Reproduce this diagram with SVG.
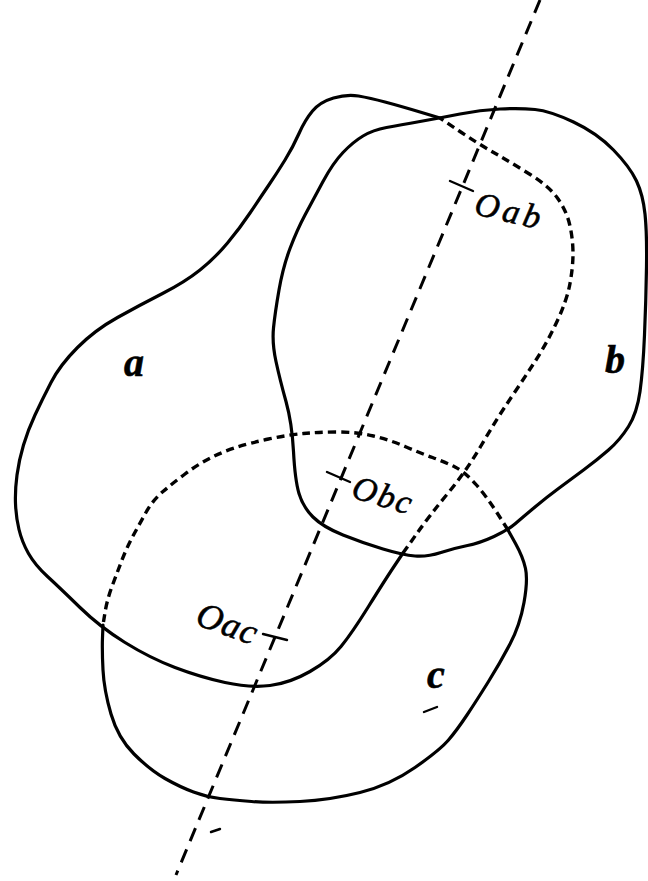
<svg xmlns="http://www.w3.org/2000/svg" width="648" height="881" viewBox="0 0 648 881">
<style>
.solid{fill:none;stroke:#000;stroke-width:3.2;stroke-linecap:round;stroke-linejoin:round}
.dash{fill:none;stroke:#000;stroke-width:3.4;stroke-dasharray:8 5}
.axis{fill:none;stroke:#000;stroke-width:3;stroke-dasharray:14 9}
.tick{stroke:#000;stroke-width:2.4;stroke-linecap:round}
.lab{font-family:"Liberation Serif","DejaVu Serif",serif;font-style:italic;fill:#000;stroke:#000;stroke-width:0.6}
</style>
<rect width="648" height="881" fill="#fff"/>
<g id="connectors">
<path class="axis" d="M540,0 L176,875"/>
</g>
<g id="blob-b">
<path class="solid" d="M 420,121.5 Q 440,118 460,114 Q 480,110 500,109 Q 520,108 535,109.5 Q 550,111 573.5,122 Q 597,133 613.5,150 Q 630,167 636.5,181 Q 643,195 645,214 Q 647,233 646.5,266.5 Q 646,300 644.5,335 Q 643,370 640,391.5 Q 637,413 628.5,426.5 Q 620,440 608.5,450 Q 597,460 583.5,470 Q 570,480 558.5,488.5 Q 547,497 535,507 Q 523,517 515.5,523.5 Q 508,530 494,536.5 Q 480,543 467.5,545.5 Q 455,548 441,552.5 Q 427,557 415,556 Q 403,555 383,549 Q 363,543 343,535 Q 323,527 313,517 Q 303,507 299,493.5 Q 295,480 293.5,451.5 Q 292,423 286,401.5 Q 280,380 276,361.5 Q 272,343 273.5,328 Q 275,313 279,290 Q 283,267 290,248.5 Q 297,230 305,215 Q 313,200 323,181.5 Q 333,163 343,152.5 Q 353,142 363,136 Q 373,130 386.5,127.5 Q 400,125 420,121.5 Z"/>
<text class="lab" x="605" y="373" font-size="40" font-weight="bold">b</text>
</g>
<g id="blob-a">
<path class="solid" d="M 440,118 L 420,112 Q 400,106 385,102 Q 370,98 358.5,96 Q 347,94 333.5,98 Q 320,102 312.5,111 Q 305,120 299,133.5 Q 293,147 285,160 Q 277,173 268.5,185.5 Q 260,198 250,213 Q 240,228 227.5,243 Q 215,258 200,270 Q 185,282 162.5,293.5 Q 140,305 117.5,317.5 Q 95,330 77.5,347.5 Q 60,365 51,382.5 Q 42,400 35,415 Q 28,430 23.5,445 Q 19,460 17,475 Q 15,490 15.5,503.5 Q 16,517 19,529.5 Q 22,542 28.5,553.5 Q 35,565 47.5,576.5 Q 60,588 80,607.5 Q 100,627 125,642.5 Q 150,658 175,667.5 Q 200,677 225,682.5 Q 250,688 270,685.5 Q 290,683 310,671.5 Q 330,660 341,646.5 Q 352,633 368.5,606.5 Q 385,580 394,566.5 L 403,553"/>
<path class="dash" d="M 403,553 L 416.5,534 Q 430,515 448.5,492.5 Q 467,470 481.5,445 Q 496,420 509.5,400 Q 523,380 535,361.5 Q 547,343 557,321.5 Q 567,300 570,283.5 Q 573,267 573,253.5 Q 573,240 570,226 Q 567,212 558.5,199.5 Q 550,187 531,175 Q 512,163 494.5,153 Q 477,143 458.5,130.5 L 440,118"/>
<text class="lab" x="124" y="376" font-size="40" font-weight="bold">a</text>
</g>
<g id="blob-c">
<path class="solid" d="M 103,625 L 102.5,637.5 Q 102,650 103,670 Q 104,690 111,714 Q 118,738 134,754 Q 150,770 165,778.5 Q 180,787 193.5,792 Q 207,797 220,798.5 Q 233,800 251.5,801.5 Q 270,803 300,801.5 Q 330,800 360,792.5 Q 390,785 415,767.5 Q 440,750 448.5,740 Q 457,730 467,715 Q 477,700 488.5,681.5 Q 500,663 510,644 Q 520,625 524,602.5 Q 528,580 525.5,568.5 Q 523,557 515.5,543.5 L 508,530"/>
<path class="dash" d="M 508,530 L 497.5,513.5 Q 487,497 476,484.5 Q 465,472 455,467 Q 445,462 432.5,457.5 Q 420,453 405,446.5 Q 390,440 373.5,436 Q 357,432 338.5,432 Q 320,432 303.5,433.5 Q 287,435 268.5,439 Q 250,443 236,447.5 Q 222,452 209.5,458.5 Q 197,465 185,474 Q 173,483 163,491.5 Q 153,500 146.5,511.5 Q 140,523 133.5,535 Q 127,547 122,560 Q 117,573 112,586.5 Q 107,600 105,612.5 L 103,625"/>
<text class="lab" x="427" y="688" font-size="40" font-weight="bold">c</text>
<path class="tick" d="M424,712 L437,707"/>
</g>
<g id="point-Oab">
<path class="tick" d="M450,181 L473,191"/>
<text class="lab" font-size="34" letter-spacing="4" transform="translate(473,214) rotate(13)">Oab</text>
</g>
<g id="point-Obc">
<path class="tick" d="M327,472 L350,482"/>
<text class="lab" font-size="34" letter-spacing="2" transform="translate(350,497) rotate(17)">Obc</text>
</g>
<g id="point-Oac">
<path class="tick" d="M263,634 L287,640"/>
<text class="lab" font-size="36" letter-spacing="1" transform="translate(194,624) rotate(20)">Oac</text>
</g>
<path class="tick" d="M211,832 L220,829"/>
</svg>
